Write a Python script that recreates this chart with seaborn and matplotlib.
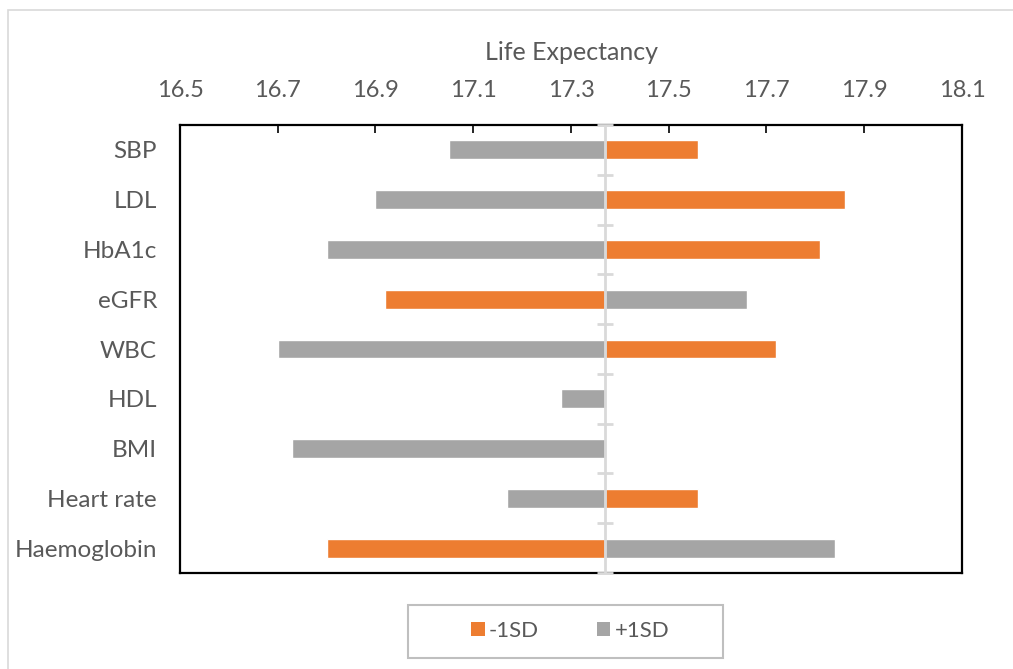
import matplotlib
matplotlib.use("Agg")
import matplotlib.pyplot as plt
from matplotlib.patches import Rectangle, Patch
import numpy as np
import pandas as pd
import seaborn as sns

# Life expectancy when each risk factor is shifted by -1SD / +1SD
categories = ["SBP", "LDL", "HbA1c", "eGFR", "WBC", "HDL", "BMI", "Heart rate", "Haemoglobin"]
minus_1sd = [17.56, 17.86, 17.81, 16.92, 17.72, 17.35, 17.23, 17.56, 16.80]
plus_1sd = [17.05, 16.90, 16.80, 17.66, 16.70, 17.28, 16.73, 17.17, 17.84]
baseline = 17.37
tick_values = [16.5, 16.7, 16.9, 17.1, 17.3, 17.5, 17.7, 17.9, 18.1]

ORANGE = "#ED7D31"
GREY = "#A5A5A5"
TEXT = "#595959"

sns.set_theme(style="white")
plt.rcParams["font.family"] = ["Lato", "DejaVu Sans"]

fig = plt.figure(figsize=(10.13, 6.69), dpi=100)
ax = fig.add_axes([180 / 1013, 1 - 573 / 669, 782 / 1013, 448 / 669])

# Bars grow out of the baseline, so plot the offsets from it
df = pd.DataFrame({
    "Risk factor": categories,
    "-1SD": np.array(minus_1sd) - baseline,
    "+1SD": np.array(plus_1sd) - baseline,
})
sns.barplot(data=df, x="-1SD", y="Risk factor", color=ORANGE, saturation=1,
            width=0.38, ax=ax, zorder=2)
sns.barplot(data=df, x="+1SD", y="Risk factor", color=GREY, saturation=1,
            width=0.38, ax=ax, zorder=2)

n = len(categories)
ax.set_ylim(n - 0.5, -0.5)
ax.set_xlim(tick_values[0] - baseline, tick_values[-1] - baseline)
ax.set_xticks([t - baseline for t in tick_values])
ax.set_xticklabels([f"{t:.1f}" for t in tick_values])
ax.xaxis.tick_top()
ax.xaxis.set_label_position("top")
ax.tick_params(axis="x", top=True, bottom=False, labeltop=True, labelbottom=False,
               direction="in", length=6, width=1.2, color="black",
               labelsize=17, labelcolor=TEXT, pad=17)
ax.set_xlabel("Life Expectancy", fontsize=18, color=TEXT, labelpad=15)

ax.tick_params(axis="y", length=0, labelsize=17.5, labelcolor=TEXT, pad=16.5)
ax.set_ylabel("")
ax.grid(False)

for side in ["left", "right", "top", "bottom"]:
    ax.spines[side].set_visible(True)
    ax.spines[side].set_color("black")
    ax.spines[side].set_linewidth(1.6)

# Category axis crossing at the baseline, with its tick marks
ax.axvline(0, color="#d9d9d9", lw=2, zorder=3)
ax.plot(np.zeros(n + 1), np.arange(n + 1) - 0.5,
        ls="none", marker="_", ms=11.5, mew=2, color="#d9d9d9",
        clip_on=False, zorder=4)

# Legend below the plot area
handles = [Patch(facecolor=ORANGE, edgecolor="none"), Patch(facecolor=GREY, edgecolor="none")]
fig.legend(handles, ["-1SD", "+1SD"], loc="center", bbox_to_anchor=(0.563, 1 - 631 / 669),
           ncol=2, frameon=False, fontsize=16, labelcolor=TEXT,
           handlelength=0.6, handleheight=0.6, handletextpad=0.2, columnspacing=2.6)
fig.add_artist(Rectangle((408 / 1013, 1 - 658 / 669), 315 / 1013, 53 / 669,
                         transform=fig.transFigure, fill=False,
                         edgecolor="#bfbfbf", lw=1.5))

# Chart area outline
fig.add_artist(Rectangle((8 / 1013, -0.05), 1.05, 1.05 - 10 / 669,
                         transform=fig.transFigure, fill=False,
                         edgecolor="#d9d9d9", lw=1.2))

fig.savefig("out.png", dpi=100)
